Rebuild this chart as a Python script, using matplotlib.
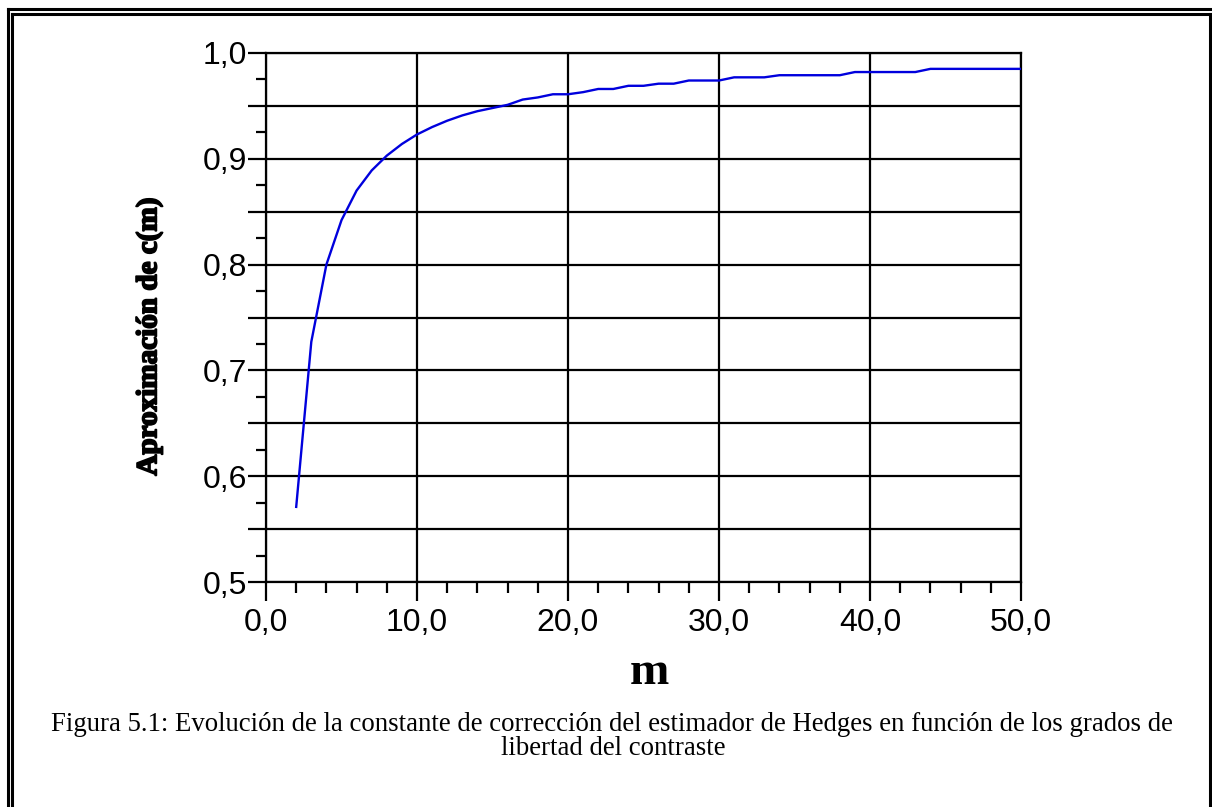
import matplotlib
matplotlib.use("Agg")
import matplotlib.pyplot as plt
from matplotlib.ticker import MultipleLocator, FuncFormatter
from matplotlib.lines import Line2D
import matplotlib.patheffects as pe

# Data
m_values = [2, 3, 4, 5, 6, 7, 8, 9, 10, 11, 12, 13, 14, 15, 16, 17, 18, 19, 20,
            21, 22, 23, 24, 25, 26, 27, 28, 29, 30, 31, 32, 33, 34, 35, 36, 37,
            38, 39, 40, 41, 42, 43, 44, 45, 46, 47, 48, 49, 50]
c_values = [0.571, 0.727, 0.800, 0.842, 0.870, 0.889, 0.903, 0.914, 0.923,
            0.930, 0.936, 0.941, 0.945, 0.948, 0.951, 0.956, 0.958, 0.961,
            0.961, 0.963, 0.966, 0.966, 0.969, 0.969, 0.971, 0.971, 0.974,
            0.974, 0.974, 0.977, 0.977, 0.977, 0.979, 0.979, 0.979, 0.979,
            0.979, 0.982, 0.982, 0.982, 0.982, 0.982, 0.985, 0.985, 0.985,
            0.985, 0.985, 0.985, 0.985]
x_ticks = [0, 10, 20, 30, 40, 50]
y_ticks = [0.5, 0.6, 0.7, 0.8, 0.9, 1.0]

caption_line1 = ("Figura 5.1: Evolución de la constante de corrección del estimador de "
                 "Hedges en función de los grados de")
caption_line2 = "libertad del contraste"

fig = plt.figure(figsize=(12.12, 8.07), dpi=100)
W, H = 1212, 807
ax = fig.add_axes([266 / W, 1 - 582 / H, (1021 - 266) / W, (582 - 53) / H])

ax.plot(m_values, c_values, color="#0000dd", lw=1.7, solid_joinstyle="round", zorder=3)

ax.set_xlim(0, 50)
ax.set_ylim(0.5, 1.0)
ax.xaxis.set_major_locator(MultipleLocator(10))
ax.xaxis.set_minor_locator(MultipleLocator(2))
ax.yaxis.set_major_locator(MultipleLocator(0.05))
ax.yaxis.set_minor_locator(MultipleLocator(0.025))

def yfmt(v, pos):
    r = round(v * 20)
    if r % 2 == 0:
        return f"{v:.1f}".replace(".", ",")
    return ""

ax.yaxis.set_major_formatter(FuncFormatter(yfmt))
ax.xaxis.set_major_formatter(FuncFormatter(lambda v, p: f"{v:.1f}".replace(".", ",")))

ax.grid(True, which="major", color="black", lw=1.6)
for s in ax.spines.values():
    s.set_linewidth(1.6)
    s.set_color("black")

ax.tick_params(axis="both", which="major", direction="out", width=1.6, colors="black",
               labelsize=23)
ax.tick_params(axis="x", which="major", length=14, pad=5)
ax.tick_params(axis="x", which="minor", length=8, width=1.6)
ax.tick_params(axis="y", which="major", length=13, pad=0.5)
ax.tick_params(axis="y", which="minor", length=7, width=1.6)
for lab in ax.get_xticklabels() + ax.get_yticklabels():
    lab.set_fontfamily("Liberation Sans")

fig.text(149 / W, 1 - 337 / H, "Aproximación de c(m)", rotation=90, ha="center", va="center",
         family="Liberation Serif", weight="bold", fontsize=21,
         path_effects=[pe.withStroke(linewidth=1.3, foreground="black")])
fig.text(649 / W, 1 - 684 / H, "m", ha="center", va="baseline",
         family="Liberation Serif", weight="bold", fontsize=34)
fig.text(611.5 / W, 1 - 731 / H, caption_line1, ha="center", va="baseline",
         family="Liberation Serif", fontsize=19.3)
fig.text(613 / W, 1 - 755 / H, caption_line2, ha="center", va="baseline",
         family="Liberation Serif", fontsize=19.3)

# double frame
def fl(x0, y0, x1, y1, lw=2.2):
    fig.add_artist(Line2D([x0 / W, x1 / W], [1 - y0 / H, 1 - y1 / H], color="black", lw=lw,
                          transform=fig.transFigure))

fl(8, 9, 1212, 9)
fl(8, 9, 8, 807)
fl(12, 13.5, 1210, 13.5)
fl(12, 13.5, 12, 807)
fl(1210, 13.5, 1210, 807)

fig.savefig("out.png", dpi=100)
